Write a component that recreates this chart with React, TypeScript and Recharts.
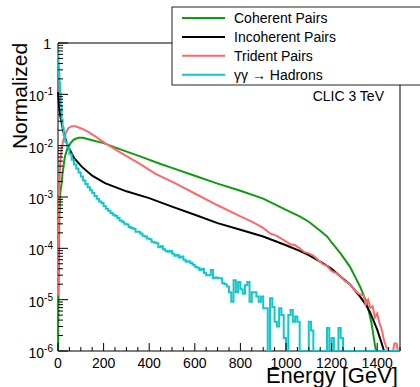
import { LineChart, Line, XAxis, YAxis, ReferenceArea } from "recharts";

// [energy GeV, normalized entries]; 1e-6 = empty bin
const coherentPairs = [
  [0, 1e-6], [3, 3e-5], [6, 4e-4], [10, 1.2e-3], [16, 1.9e-3], [20, 2.9e-3],
  [30, 6e-3], [40, 8.5e-3], [55, 0.0112], [70, 0.0132], [90, 0.0142], [110, 0.0142],
  [150, 0.0128], [200, 0.0112], [280, 8.3e-3], [360, 6.2e-3], [450, 4.4e-3],
  [500, 3.7e-3], [600, 2.6e-3], [700, 1.82e-3], [800, 1.32e-3], [900, 9.3e-4],
  [1000, 5.6e-4], [1060, 4.2e-4], [1100, 3.3e-4], [1150, 2.2e-4], [1180, 1.7e-4],
  [1200, 1.3e-4], [1240, 7.9e-5], [1280, 4.4e-5], [1325, 1.8e-5], [1355, 8.5e-6],
  [1375, 3.5e-6], [1390, 1.3e-6], [1395, 1e-6], [1500, 1e-6],
];

const incoherentPairs = [
  [0, 0.11], [1, 0.1], [5, 0.056], [10, 0.038], [16, 0.0275], [25, 0.0178],
  [35, 0.0126], [45, 9.5e-3], [70, 5.8e-3], [104, 3.9e-3], [150, 2.6e-3],
  [206, 1.86e-3], [300, 1.29e-3], [400, 9.5e-4], [500, 6.5e-4], [600, 4.5e-4],
  [700, 3.1e-4], [800, 2.3e-4], [900, 1.7e-4], [1000, 1.15e-4], [1060, 8.9e-5],
  [1100, 7.4e-5], [1150, 5.5e-5], [1200, 4.0e-5], [1240, 2.8e-5], [1280, 2.0e-5],
  [1325, 1.15e-5], [1350, 8e-6], [1370, 5.5e-6], [1400, 2.6e-6], [1420, 1.4e-6],
  [1430, 1e-6], [1500, 1e-6],
];

const tridentPairs = [
  [0, 1.2e-5], [2, 6e-5], [4, 4e-4], [6, 1.6e-3], [10, 5e-3], [16, 8.9e-3],
  [23, 0.0129], [35, 0.0182], [45, 0.0219], [60, 0.024], [75, 0.0238], [100, 0.0219],
  [133, 0.0186], [170, 0.0145], [206, 0.0112], [280, 7.1e-3], [352, 4.6e-3],
  [430, 2.8e-3], [513, 1.86e-3], [600, 1.17e-3], [700, 6.9e-4], [800, 4.2e-4],
  [850, 3.3e-4], [900, 2.5e-4], [930, 1.95e-4], [960, 1.75e-4], [990, 1.45e-4],
  [1020, 1.2e-4], [1040, 1.15e-4], [1060, 1.0e-4], [1080, 8.5e-5], [1100, 8.0e-5],
  [1120, 7.2e-5], [1140, 6.0e-5], [1160, 5.0e-5], [1180, 4.5e-5], [1200, 3.6e-5],
  [1220, 3.3e-5], [1240, 2.8e-5], [1260, 2.3e-5], [1280, 2.0e-5], [1300, 1.55e-5],
  [1320, 1.3e-5], [1340, 1.2e-5], [1350, 8e-6], [1360, 1.0e-5], [1370, 7e-6],
  [1380, 7.5e-6], [1390, 4.5e-6], [1400, 5.4e-6], [1410, 3.5e-6], [1420, 2.6e-6],
  [1430, 1.6e-6], [1440, 1.2e-6], [1450, 1e-6], [1470, 1e-6], [1475, 1.4e-6],
  [1485, 1.4e-6], [1490, 1e-6], [1500, 1e-6],
];

const hadronsPairs = [
  [0, 0.68], [2, 0.4], [4, 0.26], [6, 0.17], [9, 0.105], [12, 0.06], [16, 0.032],
  [20, 0.022], [25, 0.016], [32, 0.0118], [40, 0.0092], [50, 0.0068], [60, 0.0053],
  [70, 4.3e-3], [80, 3.6e-3], [90, 3.0e-3], [100, 2.5e-3], [110, 2.1e-3],
  [120, 1.8e-3], [130, 1.55e-3], [140, 1.35e-3], [150, 1.2e-3], [160, 1.05e-3],
  [170, 9.2e-4], [180, 8.2e-4], [190, 7.6e-4], [200, 6.6e-4], [210, 5.9e-4],
  [220, 5.4e-4], [230, 4.9e-4], [240, 4.5e-4], [250, 4.3e-4], [260, 3.9e-4],
  [270, 3.5e-4], [280, 3.3e-4], [290, 3.0e-4], [300, 2.9e-4], [310, 2.6e-4],
  [320, 2.5e-4], [330, 2.4e-4], [340, 2.1e-4], [350, 2.1e-4], [360, 1.95e-4],
  [370, 1.75e-4], [380, 1.7e-4], [390, 1.55e-4], [400, 1.5e-4], [410, 1.35e-4],
  [420, 1.3e-4], [430, 1.25e-4], [440, 1.05e-4], [450, 1.1e-4], [460, 9.6e-5],
  [470, 9.0e-5], [480, 8.6e-5], [490, 8.9e-5], [500, 7.8e-5], [510, 7.2e-5],
  [520, 7.4e-5], [530, 6.6e-5], [540, 6.9e-5], [550, 6.0e-5], [560, 5.5e-5],
  [570, 5.6e-5], [580, 5.2e-5], [590, 4.8e-5], [600, 4.4e-5],
  [610, 4.2e-5], [620, 3.8e-5], [630, 4.0e-5], [640, 3.3e-5], [650, 3.0e-5],
  [660, 3.0e-5], [670, 3.8e-5], [680, 2.6e-5], [690, 2.7e-5], [700, 2.6e-5],
  [710, 2.6e-5], [720, 2.1e-5], [730, 2.0e-5], [740, 1.8e-5], [750, 1.4e-5],
  [760, 9.1e-6], [770, 2.4e-5], [780, 1.4e-5], [790, 2.2e-5], [800, 1.6e-5],
  [810, 1.3e-5], [820, 1.9e-5], [830, 2.2e-5], [840, 9.1e-6], [850, 1.4e-5],
  [860, 1.4e-5], [870, 1.15e-5], [880, 9.1e-6], [890, 1.15e-5], [900, 6.8e-6],
  [910, 6.8e-6], [920, 1e-6], [930, 1.07e-5], [940, 7.2e-6], [950, 3.7e-6],
  [960, 3.0e-6], [970, 6.8e-6], [980, 5.0e-6], [990, 1.8e-6], [1000, 1e-6],
  [1010, 5.0e-6], [1020, 6.3e-6], [1030, 3.7e-6], [1040, 4.7e-6], [1050, 3.7e-6],
  [1060, 1e-6], [1100, 3.7e-6], [1110, 2.5e-6], [1120, 1e-6], [1180, 2.8e-6],
  [1190, 1e-6], [1200, 1.8e-6], [1210, 1e-6], [1230, 2.8e-6], [1240, 1.8e-6],
  [1250, 1e-6], [1500, 1e-6],
];

const xLabels = [0, 200, 400, 600, 800, 1000, 1200, 1400];
const yDecades = [1e-6, 1e-5, 1e-4, 1e-3, 1e-2, 1e-1, 1];

const series = [
  { name: "Coherent Pairs", pairs: coherentPairs, color: "#109a10", type: "linear" },
  { name: "Incoherent Pairs", pairs: incoherentPairs, color: "#000000", type: "linear" },
  { name: "Trident Pairs", pairs: tridentPairs, color: "#f96a6a", type: "linear" },
  { name: "γγ → Hadrons", pairs: hadronsPairs, color: "#14c6c9", type: "stepAfter" },
];

const FONT = "'Liberation Sans', Arial, Helvetica, sans-serif";

const xTicks: number[] = [];
for (let e = 0; e <= 1500; e += 50) xTicks.push(e);

const yTicks: number[] = [];
yDecades.forEach((d, i) => {
  yTicks.push(d);
  if (i < yDecades.length - 1) for (let m = 2; m <= 9; m++) yTicks.push(d * m);
});

const XTick = ({ x, y, payload }: any) => {
  const v = payload.value;
  const major = xLabels.includes(v);
  return (
    <g>
      <line x1={x} x2={x} y1={y} y2={y - (major ? 8 : 4)} stroke="#000" />
      {major && (
        <text x={x} y={y + 17} textAnchor="middle" fontSize={14} fontFamily={FONT} fill="#000">
          {v}
        </text>
      )}
    </g>
  );
};

const YTick = ({ x, y, payload }: any) => {
  const v = payload.value;
  const exp = Math.round(Math.log10(v));
  const major = Math.abs(v / Math.pow(10, exp) - 1) < 1e-6;
  return (
    <g>
      <line x1={x} x2={x + (major ? 10 : 5)} y1={y} y2={y} stroke="#000" />
      {major &&
        (exp === 0 ? (
          <text x={x - 7} y={y + 6} textAnchor="end" fontSize={14} fontFamily={FONT} fill="#000">
            1
          </text>
        ) : (
          <text x={x - 5} y={y + 7} textAnchor="end" fontSize={14} fontFamily={FONT} fill="#000">
            10
            <tspan dy={-6} fontSize={10}>
              {exp}
            </tspan>
          </text>
        ))}
    </g>
  );
};

export default function App() {
  return (
    <div style={{ position: "absolute", left: 0, top: 0, width: 420, height: 387, background: "#fff" }}>
      <LineChart width={420} height={387} margin={{ top: 43, right: 20, bottom: 6, left: 13 }}>
        <XAxis
          type="number"
          dataKey="e"
          domain={[0, 1500]}
          ticks={xTicks}
          interval={0}
          height={30}
          tickSize={0}
          tickMargin={0}
          axisLine={false}
          tickLine={false}
          tick={<XTick />}
        />
        <YAxis
          type="number"
          scale="log"
          domain={[1e-6, 1]}
          allowDataOverflow
          ticks={yTicks}
          interval={0}
          width={45}
          tickSize={0}
          tickMargin={0}
          axisLine={false}
          tickLine={false}
          tick={<YTick />}
        />
        <ReferenceArea x1={0} x2={1500} y1={1e-6} y2={1} fill="none" stroke="#000" strokeWidth={1} />
        {series.map((s) => (
          <Line
            key={s.name}
            data={s.pairs.map(([e, v]) => ({ e, v }))}
            dataKey="v"
            type={s.type as any}
            stroke={s.color}
            strokeWidth={2}
            dot={false}
            activeDot={false}
            isAnimationActive={false}
          />
        ))}
      </LineChart>
      <svg
        width={420}
        height={387}
        style={{ position: "absolute", left: 0, top: 0, pointerEvents: "none" }}
        fontFamily={FONT}
      >
        <rect x={172} y={7} width={260} height={78} fill="#fff" stroke="#222" strokeWidth={1} />
        {series.map((s, i) => {
          const cy = 18 + i * 18.9;
          return (
            <g key={s.name}>
              <line x1={182} x2={225} y1={cy} y2={cy} stroke={s.color} strokeWidth={2} />
              <text x={234} y={cy + 5} fontSize={14} fill="#000">
                {s.name}
              </text>
            </g>
          );
        })}
        <text x={384} y={101} textAnchor="end" fontSize={14} fill="#000">
          CLIC 3 TeV
        </text>
        <text transform="translate(27,96) rotate(-90)" textAnchor="middle" fontSize={21} fill="#000">
          Normalized
        </text>
        <text x={398} y={383} textAnchor="end" fontSize={22} fill="#000">
          Energy [GeV]
        </text>
      </svg>
    </div>
  );
}
